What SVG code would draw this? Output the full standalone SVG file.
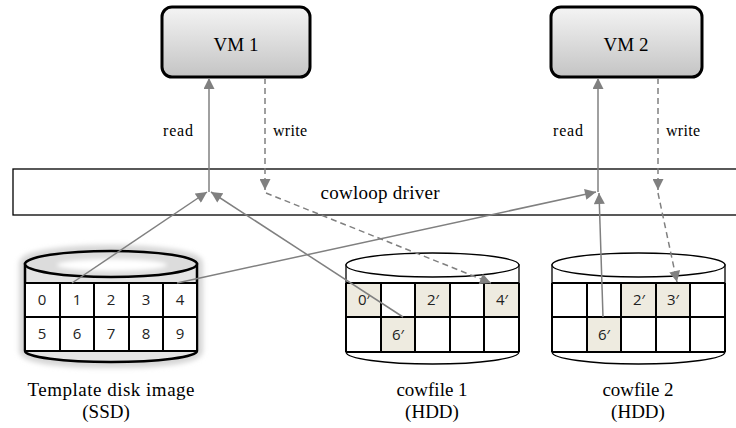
<svg xmlns="http://www.w3.org/2000/svg" width="736" height="428" viewBox="0 0 736 428">
<defs>
<linearGradient id="vmg" x1="0" y1="0" x2="0" y2="1">
<stop offset="0" stop-color="#f4f4f4"/>
<stop offset="1" stop-color="#c4c4c4"/>
</linearGradient>
<filter id="blur" x="-20%" y="-20%" width="140%" height="140%"><feGaussianBlur stdDeviation="2.5"/></filter>
<filter id="blur2" x="-20%" y="-50%" width="140%" height="200%"><feGaussianBlur stdDeviation="2"/></filter>
<marker id="ah" viewBox="0 0 10 10" refX="10" refY="5" markerWidth="12" markerHeight="11" markerUnits="userSpaceOnUse" orient="auto">
<path d="M0,0 L10,5 L0,10 z" fill="#808080"/>
</marker>
<style>
.vm{fill:url(#vmg);stroke:#000;stroke-width:3}
.serif{font-family:"Liberation Serif","Times New Roman",serif;fill:#000}
.sans{font-family:"Open Sans","DejaVu Sans",sans-serif;font-size:15px;fill:#222;text-anchor:middle}
.conn{stroke:#808080;stroke-width:1.5;fill:none;marker-end:url(#ah)}
.dash{stroke-dasharray:6,4}
.grid{stroke:#000;stroke-width:2;fill:none}
.cyl{stroke:#000;stroke-width:1.3;fill:#fff}
.sh{fill:#eeebe0}
</style>
</defs>
<rect width="736" height="428" fill="#fff"/>

<g id="driver">
<rect x="13" y="169" width="740" height="46" fill="#fff" stroke="#000" stroke-width="1.3"/>
<text class="serif" x="380" y="199" font-size="19" text-anchor="middle" textLength="119" lengthAdjust="spacing">cowloop driver</text>
</g>

<g id="vm1">
<rect class="vm" x="162" y="7" width="148" height="70" rx="10"/>
<text class="serif" x="236" y="51" font-size="19" text-anchor="middle">VM 1</text>
</g>
<g id="vm2">
<rect class="vm" x="551" y="7" width="151" height="70" rx="10"/>
<text class="serif" x="626" y="51" font-size="19" text-anchor="middle">VM 2</text>
</g>

<g id="template">
<path d="M25,264 L25,351 A86,11 0 0 0 197,351 L197,264 A86,13 0 0 0 25,264 z" fill="#d6d6d6" stroke="#d6d6d6" stroke-width="12" filter="url(#blur)"/>
<path d="M25,264 L25,351 A86,11 0 0 0 197,351 L197,264 z" fill="#e4e4e4" stroke="#000" stroke-width="2.5"/>
<ellipse cx="111" cy="264" rx="86" ry="13" fill="#dcdcdc" stroke="#000" stroke-width="2.5"/>
<ellipse cx="112" cy="265" rx="55" ry="6" fill="#fff" filter="url(#blur2)"/>
<rect x="25" y="283" width="172" height="68" fill="#fff"/>
<path class="grid" d="M25,283 H197 M25,317 H197 M25,351 H197 M60,283 V351 M94,283 V351 M129,283 V351 M163,283 V351 M25,283 V351 M197,283 V351"/>
<text class="sans" x="42" y="305">0</text>
<text class="sans" x="77" y="305">1</text>
<text class="sans" x="111" y="305">2</text>
<text class="sans" x="146" y="305">3</text>
<text class="sans" x="180" y="305">4</text>
<text class="sans" x="42" y="339">5</text>
<text class="sans" x="77" y="339">6</text>
<text class="sans" x="111" y="339">7</text>
<text class="sans" x="146" y="339">8</text>
<text class="sans" x="180" y="339">9</text>
<text class="serif" x="111" y="396" font-size="19" text-anchor="middle" textLength="167" lengthAdjust="spacing">Template disk image</text>
<text class="serif" x="106" y="418" font-size="19" text-anchor="middle">(SSD)</text>
</g>

<g id="cowfile1">
<path class="cyl" d="M346,265 L346,352 A86.5,12 0 0 0 519,352 L519,265 z"/>
<ellipse class="cyl" cx="432.5" cy="265" rx="86.5" ry="12"/>
<rect class="sh" x="346" y="283" width="35" height="34"/>
<rect class="sh" x="415" y="283" width="35" height="34"/>
<rect class="sh" x="484" y="283" width="35" height="34"/>
<rect class="sh" x="381" y="317" width="34" height="35"/>
<path class="grid" d="M346,283 H519 M346,317 H519 M346,352 H519 M381,283 V352 M415,283 V352 M450,283 V352 M484,283 V352 M346,283 V352 M519,283 V352"/>
<text class="sans" x="364" y="305">0′</text>
<text class="sans" x="433" y="305">2′</text>
<text class="sans" x="502" y="305">4′</text>
<text class="sans" x="398" y="340">6′</text>
<text class="serif" x="432" y="396" font-size="19" text-anchor="middle">cowfile 1</text>
<text class="serif" x="432" y="418" font-size="19" text-anchor="middle">(HDD)</text>
</g>

<g id="cowfile2">
<path class="cyl" d="M552,265 L552,352 A86.5,12 0 0 0 725,352 L725,265 z"/>
<ellipse class="cyl" cx="638.5" cy="265" rx="86.5" ry="12"/>
<rect class="sh" x="621" y="283" width="35" height="34"/>
<rect class="sh" x="656" y="283" width="34" height="34"/>
<rect class="sh" x="587" y="317" width="34" height="35"/>
<path class="grid" d="M552,283 H725 M552,317 H725 M552,352 H725 M587,283 V352 M621,283 V352 M656,283 V352 M690,283 V352 M552,283 V352 M725,283 V352"/>
<text class="sans" x="639" y="305">2′</text>
<text class="sans" x="673" y="305">3′</text>
<text class="sans" x="604" y="340">6′</text>
<text class="serif" x="638" y="396" font-size="19" text-anchor="middle">cowfile 2</text>
<text class="serif" x="638" y="418" font-size="19" text-anchor="middle">(HDD)</text>
</g>

<g id="connectors">
<line class="conn" x1="209" y1="192" x2="209" y2="78"/>
<line class="conn dash" x1="265" y1="78" x2="265" y2="190"/>
<line class="conn dash" x1="266" y1="193" x2="491" y2="283"/>
<line class="conn" x1="72" y1="283" x2="207" y2="192"/>
<line class="conn" x1="403" y1="317" x2="211" y2="192"/>
<line class="conn" x1="177" y1="283" x2="596" y2="192"/>
<line class="conn" x1="603" y1="317" x2="599" y2="193"/>
<line class="conn" x1="598" y1="192" x2="598" y2="78"/>
<line class="conn dash" x1="658" y1="78" x2="658" y2="190"/>
<line class="conn dash" x1="658" y1="193" x2="677" y2="282"/>
</g>

<g id="labels">
<text class="serif" x="178" y="136" font-size="16" text-anchor="middle" textLength="30" lengthAdjust="spacing">read</text>
<text class="serif" x="290" y="136" font-size="16" text-anchor="middle" textLength="34" lengthAdjust="spacing">write</text>
<text class="serif" x="568" y="136" font-size="16" text-anchor="middle" textLength="30" lengthAdjust="spacing">read</text>
<text class="serif" x="683" y="136" font-size="16" text-anchor="middle" textLength="34" lengthAdjust="spacing">write</text>
</g>
</svg>
